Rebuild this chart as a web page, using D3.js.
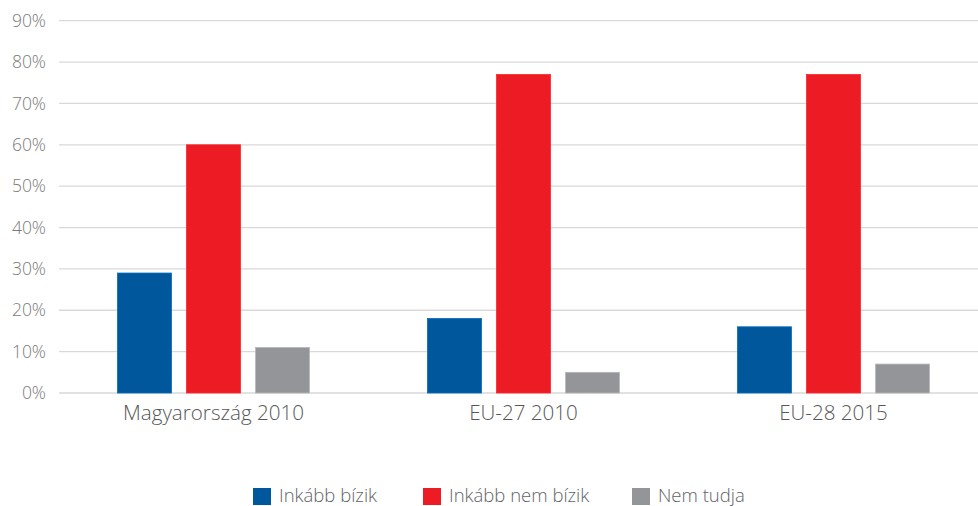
<!DOCTYPE html>
<html><head><meta charset="utf-8">
<script src="https://cdn.jsdelivr.net/npm/d3@7"></script>
<style>body{margin:0;background:#fff}svg{display:block}text{font-family:"Open Sans",sans-serif;font-weight:300}</style>
</head><body><svg id="c" width="978" height="506"></svg>
<script>
const categories = ["Magyarország 2010", "EU-27 2010", "EU-28 2015"];
const seriesNames = ["Inkább bízik", "Inkább nem bízik", "Nem tudja"];
const inkabbBizik = [29, 18, 16];
const inkabbNemBizik = [60, 77, 77];
const nemTudja = [11, 5, 7];
const yTicks = [0, 10, 20, 30, 40, 50, 60, 70, 80, 90];
const colors = ["#00579b", "#ed1c24", "#939598"];

const series = [inkabbBizik, inkabbNemBizik, nemTudja];
const svg = d3.select("#c");
const y = d3.scaleLinear().domain([0, 90]).range([393, 20.7]);
const x0 = d3.scaleBand().domain(categories).range([58.5, 988.5]).paddingInner(0).paddingOuter(0);
const x1 = d3.scaleBand().domain(seriesNames).range([0, 192]).paddingInner(15/69).paddingOuter(0);

// grid
svg.append("g").selectAll("line").data(yTicks).join("line")
  .attr("x1", 59).attr("x2", 978)
  .attr("y1", d => y(d)).attr("y2", d => y(d))
  .attr("stroke", "#d9d9d9").attr("stroke-width", 1.3);

// y labels
svg.append("g").selectAll("text").data(yTicks).join("text")
  .attr("x", 46).attr("y", d => y(d)).attr("dy", "0.35em")
  .attr("text-anchor", "end").attr("font-size", 17.5).attr("fill", "#7a7a7a")
  .text(d => d + "%");

// bars
const g = svg.append("g");
categories.forEach((c, i) => {
  const cx = x0(c) + x0.bandwidth() / 2;
  series.forEach((s, j) => {
    g.append("rect")
      .attr("x", cx - 96 + x1(seriesNames[j]))
      .attr("y", y(s[i]))
      .attr("width", x1.bandwidth())
      .attr("height", y(0) - y(s[i]))
      .attr("fill", colors[j])
      .attr("stroke", d3.color(colors[j]).brighter(0.6))
      .attr("stroke-width", 0.8);
  });
});

// x labels
svg.append("g").selectAll("text").data(categories).join("text")
  .attr("x", d => x0(d) + x0.bandwidth() / 2).attr("y", 420)
  .attr("text-anchor", "middle").attr("font-size", 20.6).attr("fill", "#575757")
  .text(d => d);

// legend
const legX = [253, 423, 632];
const leg = svg.append("g");
seriesNames.forEach((n, j) => {
  leg.append("rect").attr("x", legX[j]).attr("y", 488).attr("width", 18).attr("height", 17).attr("fill", colors[j]);
  leg.append("text").attr("x", legX[j] + 26).attr("y", 501.5).attr("font-size", 18.5).attr("fill", "#626366").text(n);
});
</script></body></html>
